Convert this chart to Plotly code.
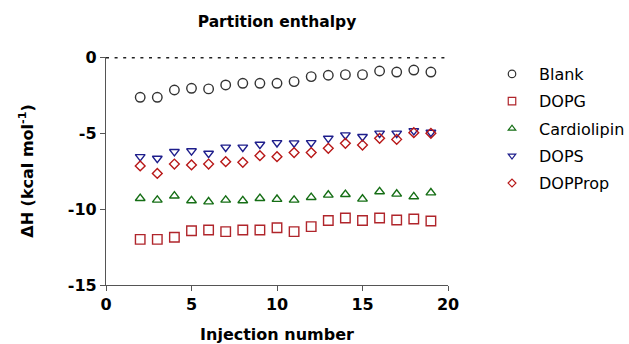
import plotly.graph_objects as go

injections = list(range(2, 20))

blank = [-2.65, -2.65, -2.17, -2.06, -2.10, -1.84, -1.73, -1.73, -1.73,
         -1.62, -1.29, -1.20, -1.16, -1.16, -0.92, -0.99, -0.86, -0.99]
dopg = [-12.00, -12.00, -11.86, -11.43, -11.38, -11.49, -11.38, -11.38, -11.23,
        -11.49, -11.16, -10.76, -10.59, -10.76, -10.59, -10.72, -10.66, -10.79]
cardiolipin = [-9.30, -9.41, -9.14, -9.45, -9.52, -9.41, -9.45, -9.30, -9.36,
               -9.41, -9.23, -9.08, -9.04, -9.34, -8.86, -9.01, -9.19, -8.93]
dops = [-6.56, -6.67, -6.23, -6.18, -6.34, -5.94, -5.94, -5.75, -5.64,
        -5.66, -5.64, -5.35, -5.13, -5.24, -5.02, -5.02, -4.85, -4.96]
dopprop = [-7.17, -7.66, -7.04, -7.10, -7.04, -6.89, -6.93, -6.49, -6.56,
           -6.29, -6.29, -6.01, -5.68, -5.79, -5.35, -5.42, -4.98, -5.02]

x_ticks = [0, 5, 10, 15, 20]
y_ticks = [0, -5, -10, -15]

# name, values, symbol, colour, plot marker size, legend marker size
series = [
    ("Blank", blank, "circle-open", "#333333", 9.5, 7.5),
    ("DOPG", dopg, "square-open", "#b0252b", 9.5, 7.5),
    ("Cardiolipin", cardiolipin, "triangle-up-open", "#156e15", 8.5, 6.5),
    ("DOPS", dops, "triangle-down-open", "#1e1e8c", 8.5, 6.5),
    ("DOPProp", dopprop, "diamond-open", "#b81818", 7.5, 6),
]

fig = go.Figure()
for name, vals, sym, col, sz, lsz in series:
    fig.add_trace(go.Scatter(
        x=injections, y=vals, mode="markers", name=name, showlegend=False,
        marker=dict(symbol=sym, size=sz, color=col, line=dict(width=1.4, color=col)),
    ))
for name, vals, sym, col, sz, lsz in series:
    fig.add_trace(go.Scatter(
        x=[None], y=[None], mode="markers", name=name, showlegend=True,
        legendgroup=name,
        marker=dict(symbol=sym, size=lsz, color=col, line=dict(width=1.2, color=col)),
    ))

fig.add_shape(type="line", xref="x", yref="y", x0=0, x1=20, y0=0, y1=0,
              line=dict(color="#222222", width=3, dash="3px,5.6px"))

bold_font = "DejaVu Sans, Verdana, sans-serif"
fig.update_layout(
    width=629, height=344,
    margin=dict(l=106, r=181, t=57, b=59, autoexpand=False),
    paper_bgcolor="white", plot_bgcolor="white",
    font=dict(family=bold_font, color="black"),
    title=dict(text="<b>Partition enthalpy</b>", x=(106 + 448) / 2 / 629, xanchor="center",
               y=1 - 22 / 344, yanchor="middle", font=dict(size=15.5)),
    legend=dict(xref="container", yref="container", x=485 / 629, y=1 - 57 / 344,
                xanchor="left", yanchor="top", itemwidth=44,
                font=dict(size=16, family=bold_font), tracegroupgap=3.5,
                bgcolor="rgba(0,0,0,0)"),
)
fig.update_xaxes(
    range=[0, 20], tickvals=x_ticks, ticktext=[f"<b>{v}</b>" for v in x_ticks],
    showgrid=False, zeroline=False, showline=True, linecolor="#555555", linewidth=1.3,
    ticks="outside", ticklen=5, tickcolor="#555555", tickwidth=1.3,
    tickfont=dict(size=16), automargin=False,
    title=dict(text="<b>Injection number</b>", font=dict(size=16), standoff=17),
)
fig.update_yaxes(
    range=[-15, 0], tickvals=y_ticks, ticktext=[f"<b>{v}</b>" for v in y_ticks],
    showgrid=False, zeroline=False, showline=True, linecolor="#555555", linewidth=1.3,
    ticks="outside", ticklen=5, tickcolor="#555555", tickwidth=1.3,
    tickfont=dict(size=16), automargin=False,
    title=dict(text="<b>ΔH (kcal mol<sup>-1</sup>)</b>", font=dict(size=16), standoff=30),
)

fig.write_html("out.html")
